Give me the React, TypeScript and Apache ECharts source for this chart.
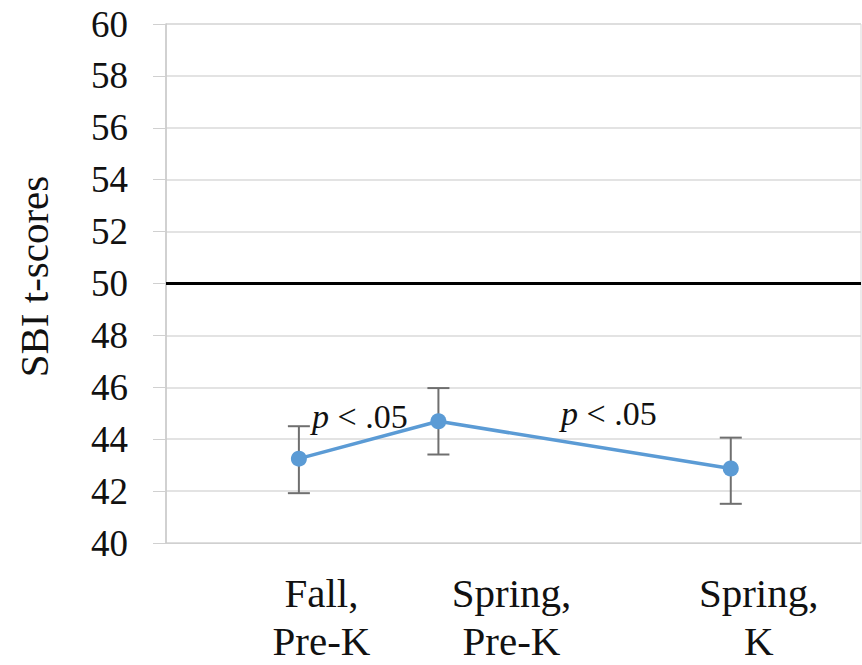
import React, { useEffect, useRef } from "react";
import * as echarts from "echarts";

const categories = ["Fall,\nPre-K", "Spring,\nPre-K", "Spring,\nK"];
const pointX = [1.0, 2.05, 4.25];
const labelX = [1.17, 2.6, 4.46];
const means = [43.25, 44.69, 42.87];
const errLow = [41.92, 43.41, 41.51];
const errHigh = [44.5, 45.97, 44.06];
const yTicks = { min: 40, max: 60, interval: 2 };
const referenceLine = 50;
const annotations = ["p < .05", "p < .05"];

const FONT = "Liberation Serif";

export default function App() {
  const ref = useRef<HTMLDivElement>(null);
  useEffect(() => {
    if (!ref.current) return;
    const chart = echarts.init(ref.current, undefined, { renderer: "svg" });
    const xMax = 5.23;
    const lineData = pointX.map((x, i) => [x, means[i]]);
    const errData = pointX.map((x, i) => [x, errLow[i], errHigh[i]]);
    const labelOf = (v: number) => {
      const idx = labelX.findIndex((lx) => Math.abs(lx - v) < 1e-6);
      return idx >= 0 ? categories[idx] : "";
    };
    const pRich = (s: string) => "{i|p}{n|" + s.slice(1) + "}";
    const richP = {
      i: { fontStyle: "italic", fontFamily: FONT, fontSize: 34, color: "#111" },
      n: { fontFamily: FONT, fontSize: 34, color: "#111" },
    };
    chart.setOption({
      animation: false,
      backgroundColor: "#ffffff",
      textStyle: { fontFamily: FONT },
      grid: {
        left: 166,
        right: 1,
        top: 24,
        bottom: 118,
        show: true,
        borderColor: "#d9d9d9",
        borderWidth: 1,
      },
      xAxis: [
        {
          type: "value",
          min: 0,
          max: xMax,
          axisLine: { show: true, lineStyle: { color: "#d0d0d0", width: 1 } },
          axisTick: { show: false },
          axisLabel: { show: false },
          splitLine: { show: false },
        },
        {
          type: "value",
          position: "bottom",
          min: 0,
          max: xMax,
          axisLine: { show: false },
          axisTick: { show: false },
          splitLine: { show: false },
          axisLabel: {
            show: true,
            customValues: labelX,
            formatter: (v: number) => labelOf(v),
            fontFamily: FONT,
            fontSize: 41,
            lineHeight: 48,
            color: "#111",
            margin: 26,
          },
        },
      ],
      yAxis: {
        type: "value",
        min: yTicks.min,
        max: yTicks.max,
        interval: yTicks.interval,
        name: "SBI t-scores",
        nameLocation: "middle",
        nameGap: 112,
        nameTextStyle: { fontFamily: FONT, fontSize: 41, color: "#111", padding: [0, 0, 0, 14] },
        axisLine: { show: true, lineStyle: { color: "#c8c8c8", width: 1.5 } },
        axisTick: { show: true, inside: false, length: 13, lineStyle: { color: "#d0d0d0" } },
        axisLabel: { fontFamily: FONT, fontSize: 37, color: "#111", margin: 38 },
        splitLine: { show: true, lineStyle: { color: "#dadada", width: 1.5 } },
      },
      series: [
        {
          type: "custom",
          xAxisIndex: 0,
          z: 3,
          data: errData,
          renderItem: (params: any, api: any) => {
            const x = api.value(0);
            const lo = api.coord([x, api.value(1)]);
            const hi = api.coord([x, api.value(2)]);
            const hw = 11;
            const style = { stroke: "#6f6f6f", lineWidth: 2 };
            return {
              type: "group",
              children: [
                { type: "line", shape: { x1: lo[0], y1: lo[1], x2: hi[0], y2: hi[1] }, style },
                { type: "line", shape: { x1: lo[0] - hw, y1: lo[1], x2: lo[0] + hw, y2: lo[1] }, style },
                { type: "line", shape: { x1: hi[0] - hw, y1: hi[1], x2: hi[0] + hw, y2: hi[1] }, style },
              ],
            };
          },
        },
        {
          type: "line",
          xAxisIndex: 0,
          z: 4,
          data: lineData,
          symbol: "circle",
          symbolSize: 16,
          itemStyle: { color: "#5b9bd5" },
          lineStyle: { color: "#5b9bd5", width: 3.5 },
          markLine: {
            silent: true,
            symbol: "none",
            label: { show: false },
            lineStyle: { color: "#000", width: 3, type: "solid" },
            data: [{ yAxis: referenceLine }],
          },
        },
      ],
      graphic: [
        {
          type: "text",
          x: 312,
          y: 416,
          style: {
            text: pRich(annotations[0]),
            fontFamily: FONT,
            fontSize: 34,
            fill: "#111",
            verticalAlign: "middle",
            rich: richP,
          },
        },
        {
          type: "text",
          x: 561,
          y: 413,
          style: {
            text: pRich(annotations[1]),
            fontFamily: FONT,
            fontSize: 34,
            fill: "#111",
            verticalAlign: "middle",
            rich: richP,
          },
        },
      ],
    });
    return () => chart.dispose();
  }, []);
  return (
    <div
      ref={ref}
      style={{ position: "fixed", left: 0, top: 0, width: 862, height: 665, background: "#fff" }}
    />
  );
}
